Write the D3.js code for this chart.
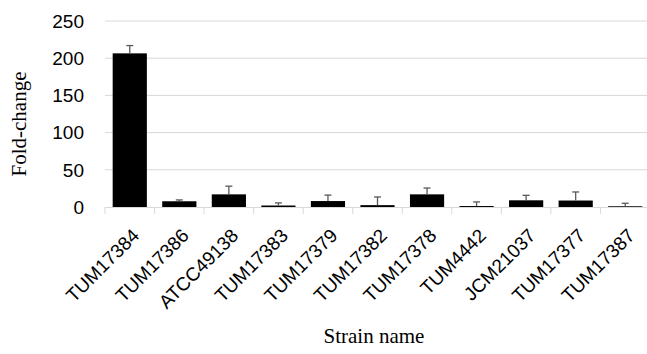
<!DOCTYPE html>
<html>
<head>
<meta charset="utf-8">
<script src="https://cdn.jsdelivr.net/npm/d3@7"></script>
<style>
  body { margin: 0; background: #fff; }
  svg { display: block; }
</style>
</head>
<body>
<div id="chart"></div>
<script>
// strain names, fold-change means and upper error (sd)
var strains = ['TUM17384', 'TUM17386', 'ATCC49138', 'TUM17383', 'TUM17379', 'TUM17382',
               'TUM17378', 'TUM4442', 'JCM21037', 'TUM17377', 'TUM17387'];
var foldChange = [206.5, 7.7, 17, 2, 8, 2.5, 17, 1.3, 9, 8.7, 1];
var errorUp = [10.5, 1.8, 11, 3.5, 8, 11, 8.5, 5.5, 6.7, 11.5, 4];
var yTicks = [0, 50, 100, 150, 200, 250];

var margin = {top: 21, right: -3, bottom: 147, left: 105},
    W = 647, H = 354,
    width = W - margin.left - margin.right,
    height = H - margin.top - margin.bottom;

var svg = d3.select("#chart")
  .append("svg")
    .attr("width", W)
    .attr("height", H);

var g = svg.append("g")
    .attr("transform", "translate(" + margin.left + "," + margin.top + ")");

var x = d3.scaleBand()
  .domain(strains)
  .range([0, width])
  .paddingInner(0.31)
  .paddingOuter(0.155);

var y = d3.scaleLinear()
  .domain([0, 250])
  .range([height, 0]);

// gridlines
g.selectAll(".grid")
  .data(yTicks.filter(d => d > 0))
  .enter().append("line")
    .attr("x1", 0)
    .attr("x2", width)
    .attr("y1", d => y(d))
    .attr("y2", d => y(d))
    .attr("stroke", "#d9d9d9")
    .attr("stroke-width", 1);

// y tick labels
g.selectAll(".ylab")
  .data(yTicks)
  .enter().append("text")
    .attr("x", -21)
    .attr("y", d => y(d))
    .attr("dy", "0.36em")
    .attr("text-anchor", "end")
    .style("font-family", "Liberation Sans, Arial, sans-serif")
    .style("font-size", "19px")
    .attr("fill", "#000")
    .text(d => d);

// bars
g.selectAll(".bar")
  .data(strains)
  .enter().append("rect")
    .attr("x", d => x(d))
    .attr("width", x.bandwidth())
    .attr("y", (d, i) => y(foldChange[i]))
    .attr("height", (d, i) => y(0) - y(foldChange[i]))
    .attr("fill", "#000");

// error bars (upper only)
var err = g.selectAll(".err")
  .data(strains)
  .enter().append("g")
    .attr("transform", d => "translate(" + (x(d) + x.bandwidth() / 2) + ",0)");

err.append("line")
  .attr("y1", (d, i) => y(foldChange[i]))
  .attr("y2", (d, i) => y(foldChange[i] + errorUp[i]))
  .attr("stroke", "#595959")
  .attr("stroke-width", 1.3);

err.append("line")
  .attr("x1", -3.5)
  .attr("x2", 3.5)
  .attr("y1", (d, i) => y(foldChange[i] + errorUp[i]))
  .attr("y2", (d, i) => y(foldChange[i] + errorUp[i]))
  .attr("stroke", "#595959")
  .attr("stroke-width", 1.3);

// x axis line with category boundary ticks
g.append("line")
  .attr("x1", 0)
  .attr("x2", width)
  .attr("y1", y(0) + 0.5)
  .attr("y2", y(0) + 0.5)
  .attr("stroke", "#d9d9d9");

var step = x.step();
var x0 = x(strains[0]) - x.paddingOuter() * step;
g.selectAll(".xtick")
  .data(d3.range(strains.length + 1))
  .enter().append("line")
    .attr("x1", i => x0 + i * step)
    .attr("x2", i => x0 + i * step)
    .attr("y1", y(0))
    .attr("y2", y(0) + 7)
    .attr("stroke", "#d9d9d9");

// x tick labels
g.selectAll(".xlab")
  .data(strains)
  .enter().append("text")
    .attr("transform", d => "translate(" + (x(d) + x.bandwidth() / 2 + 6) + "," + (y(0) + 25) + ") rotate(-45)")
    .attr("text-anchor", "end")
    .attr("dy", "0.35em")
    .style("font-family", "Liberation Sans, Arial, sans-serif")
    .style("font-size", "19px")
    .attr("fill", "#000")
    .text(d => d);

// axis titles
svg.append("text")
  .attr("transform", "translate(26,124) rotate(-90)")
  .attr("text-anchor", "middle")
  .style("font-family", "Liberation Serif, Times New Roman, serif")
  .style("font-size", "21px")
  .attr("fill", "#000")
  .text("Fold-change");

svg.append("text")
  .attr("x", 374)
  .attr("y", 343)
  .attr("text-anchor", "middle")
  .style("font-family", "Liberation Serif, Times New Roman, serif")
  .style("font-size", "21px")
  .attr("fill", "#000")
  .text("Strain name");
</script>
</body>
</html>
